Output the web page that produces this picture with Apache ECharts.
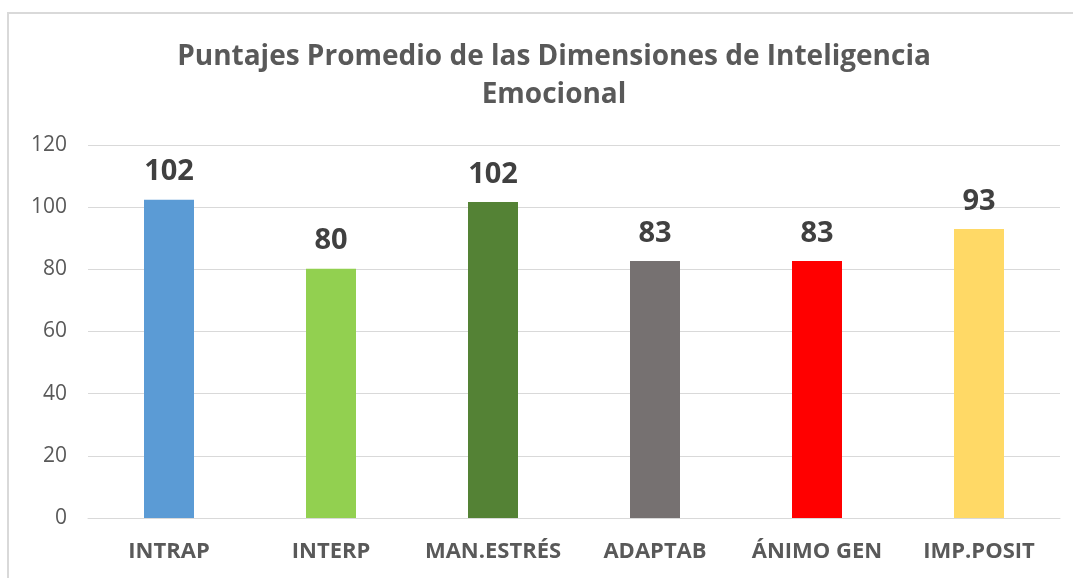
<!DOCTYPE html>
<html>
<head>
<meta charset="utf-8">
<script src="https://cdn.jsdelivr.net/npm/echarts@6/dist/echarts.min.js"></script>
<style>
  html, body { margin: 0; padding: 0; background: #fff; }
  #frame {
    position: absolute; left: 7px; top: 12px; width: 1100px; height: 600px;
    border: 2px solid #d9d9d9; box-sizing: border-box;
  }
  #chart { position: absolute; left: 0; top: 0; width: 1073px; height: 578px; }
</style>
</head>
<body>
<div id="frame"></div>
<div id="chart"></div>
<script>
// datos del gráfico
const categories = ['INTRAP', 'INTERP', 'MAN.ESTRÉS', 'ADAPTAB', 'ÁNIMO GEN', 'IMP.POSIT'];
const scores = [102.4, 80.2, 101.7, 82.7, 82.7, 93.0];
const barColors = ['#5B9BD5', '#92D050', '#548235', '#767171', '#FF0000', '#FFD966'];
const yTicks = [0, 20, 40, 60, 80, 100, 120];

const chart = echarts.init(document.getElementById('chart'));
const font = '"Open Sans", sans-serif';

chart.setOption({
  animation: false,
  title: {
    text: 'Puntajes Promedio de las Dimensiones de Inteligencia\nEmocional',
    left: 549,
    top: 33,
    textAlign: 'center',
    textStyle: {
      fontFamily: font,
      fontSize: 28,
      fontWeight: 'bold',
      color: '#595959',
      lineHeight: 38
    }
  },
  grid: {
    left: 88,
    right: 13,
    top: 145,
    bottom: 60
  },
  xAxis: {
    type: 'category',
    data: categories,
    axisLine: { show: true, lineStyle: { color: '#d9d9d9', width: 1 } },
    axisTick: { show: false },
    axisLabel: {
      interval: 0,
      margin: 23,
      fontFamily: font,
      fontSize: 22,
      fontWeight: 'bold',
      color: '#595959'
    }
  },
  yAxis: {
    type: 'value',
    min: yTicks[0],
    max: yTicks[yTicks.length - 1],
    interval: 20,
    axisLine: { show: false },
    axisTick: { show: false },
    splitLine: { lineStyle: { color: '#d9d9d9', width: 1 } },
    axisLabel: {
      margin: 21,
      fontFamily: font,
      fontSize: 21,
      color: '#595959'
    }
  },
  series: [{
    type: 'bar',
    barWidth: 50,
    data: scores.map((v, i) => ({ value: v, itemStyle: { color: barColors[i] } })),
    label: {
      show: true,
      position: 'top',
      distance: 13,
      formatter: p => Math.round(p.value),
      fontFamily: font,
      fontSize: 29,
      fontWeight: 'bold',
      color: '#404040'
    }
  }]
});
</script>
</body>
</html>
